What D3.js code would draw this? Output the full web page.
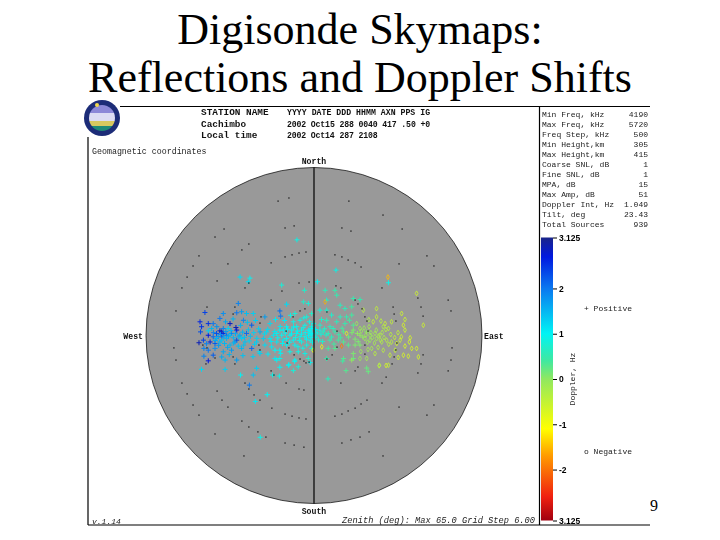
<!DOCTYPE html>
<html>
<head>
<meta charset="utf-8">
<style>
/* all element styling goes here */
html, body { margin: 0; padding: 0; background: #fff; }
#skymap { display: block; }
.title { font-family: "Liberation Serif", serif; font-size: 44px; text-anchor: middle; }
.mono { font-family: "Liberation Mono", monospace; font-size: 8.2px; font-weight: bold; fill: #111; filter: blur(0.25px); }
.small { font-family: "Liberation Mono", monospace; font-size: 8px; fill: #222; filter: blur(0.3px); }
.cbar text { font-family: "Liberation Sans", sans-serif; font-size: 8.5px; font-weight: bold; fill: #000; filter: blur(0.25px); }
</style>
<script src="https://cdn.jsdelivr.net/npm/d3@7"></script>
</head>
<body>
<svg id="skymap" width="720" height="540"></svg>
<script>

var titleLines = ["Digisonde Skymaps:", "Reflections and Doppler Shifts"];

var headerLabels = ["STATION NAME", "Cachimbo", "Local time"];
var headerValues = ["YYYY DATE  DDD HHMM AXN PPS IG", "2002 Oct15 288 0040 417 .50 +0", "2002 Oct14 287 2108"];

var statNames = ["Min Freq, kHz", "Max Freq, kHz", "Freq Step, kHz", "Min Height,km", "Max Height,km", "Coarse SNL, dB",
  "Fine SNL, dB", "MPA, dB", "Max Amp, dB", "Doppler Int, Hz", "Tilt, deg", "Total Sources"];
var statValues = ["4190", "5720", "500", "305", "415", "1", "1", "15", "51", "1.049", "23.43", "939"];

var dopplerTicks = [3.125, 2, 1, 0, -1, -2, -3.125];
var dopplerTickLabels = ["3.125", "2", "1", "0", "-1", "-2", "3.125"];
var dopplerStops = [3.125, 2.7, 2, 1, 0.4, 0, -1.1, -1.7, -2.6, -3.125];
var dopplerColors = ["#1a2488", "#0018e0", "#0a78f0", "#00f4f4", "#40e8a0", "#90e860", "#ffff00", "#ff9a00", "#f02010", "#a00010"];

// small black grid dots, [east, north] in degrees of zenith angle
var gridDots = [
  [-13.9,52],[-9.7,53.2],[-11.2,41.6],[-7.7,42.4],[-34.8,41.2],[-38.3,38.1],[-25.2,35.4],[-27.9,33.1],[-44.5,30.8],[-46.8,26.9],
  [-33.3,27.7],[-16.6,28.1],[-11.2,30.4],[-8.5,31.2],[-5.8,31.9],[-3.1,32.3],[13.5,52],[26.7,46.6],[10.8,41.6],[14.3,40.4],
  [34.1,41.2],[8.1,31.2],[10.8,30.4],[13.2,29.2],[15.9,28.1],[18.2,26.5],[43.7,30.8],[46.4,26.9],[32.9,27.7],[-49.1,22.6],
  [-51.1,18.4],[-37.5,21.1],[-25.2,20.3],[-26.7,18.4],[-5.8,20.3],[-1.9,20.7],[-12.4,17.2],[-16.6,13.7],[-41.4,11],[-31.3,8.3],
  [-30.6,11],[-3.5,10.3],[-5.4,9.5],[-8.1,7.2],[-10.8,1.7],[-20.9,4.8],[-20.5,7.2],[-43,-3.7],[-41.4,-4.8],[-21.3,-3.7],
  [-20.9,-5.6],[-10.4,-2.9],[-9.7,-4.8],[-7.7,-7.5],[-5.4,-9.1],[-1.9,-10.3],[-31.3,-8.3],[-30.6,-11],[-38.3,-8.7],[8.5,19.2],
  [10.4,18.4],[26.3,18.4],[15.9,13.7],[17,12.2],[18.6,10.3],[19.7,7.2],[30.6,11],[41.4,11],[40.2,14.5],[42.2,7.5],
  [31,8.3],[31.7,5.6],[20.5,5.6],[5,9.1],[20.9,1.7],[8.9,1.7],[32.1,-2.9],[19.7,-3.7],[8.9,-4.5],[31.7,-5.6],
  [7,-7.5],[5,-9.1],[19.7,-7.2],[17,-12.2],[30.2,-11],[31,-8.3],[42.2,-7.5],[41.4,-11],[-41.8,-11],[-3.9,-9.9],
  [-3.1,-10.6],[15.9,-13.7],[40.2,-14.5],[-16.6,-13.7],[-15.5,-15.3],[-10.8,-18.4],[-26.7,-18.4],[-25.2,-20.7],[-37.5,-21.5],[-5.8,-20.7],
  [-3.9,-21.1],[10.4,-18.4],[26.3,-18.4],[27.9,-16.1],[-23.2,-23],[-20.9,-25],[-35.6,-25],[-33.3,-27.7],[20.5,-25],[18.2,-26.5],
  [15.9,-28.1],[13.2,-29.2],[10.8,-30.4],[8.1,-31.2],[32.9,-27.7],[43.7,-30.8],[-16.3,-28.1],[-11.2,-30.4],[-8.5,-31.2],[-5.8,-31.9],
  [-3.1,-32.3],[-27.9,-33.1],[-25.2,-35.4],[-21.7,-37.3],[-18.6,-39.3],[-38.3,-38.1],[21.3,-37.3],[17.8,-39.3],[14.3,-40.4],[10.8,-41.6],
  [-11.2,-41.6],[-7.7,-42.4],[-3.9,-43.2],[-27.1,-46.6],[26.7,-46.6],[-53.4,9.5],[-54.2,-4.8],[-53.4,-9.5],[-51.1,-18.4],[-49.1,-22.6],
  [-46.8,-26.9],[-44.5,-30.8],[51.9,13.7],[53,9.5],[53.4,-4.8],[53,-9.5],[51.9,-13.7],[46.4,-26.9]
];

// reflections, [east, north, doppler Hz]
var westSources = [
  [-44.1,5.3,2.6],[-40.9,4.6,2.5],[-42.2,8.9,2.4],[-43.5,3.4,2.5],[-43.9,1.4,2.3],[-44.5,-2.8,2.9],[-42.8,-1.8,2.4],[-40.2,-2.5,2.6],
  [-38.3,-3.1,2.2],[-35.7,1.4,2.9],[-36.4,6.6,2],[-35.1,8.5,1.8],[-39,4.6,2],[-32.5,4.6,2.8],[-29.9,2.1,2.7],[-29.3,12.4,1.9],
  [-28,9.2,1.7],[-29.9,8.8,2],[-26.1,8.5,1.4],[-27.3,5.9,1.9],[-23.5,8.5,1.3],[-19,7.2,1.7],[-13.2,9.5,2.1],[-12.9,7.5,2],
  [-35.7,-0.5,2.4],[-33.8,0.1,2.1],[-31.9,0.8,2],[-29.9,-1.8,2.3],[-26.1,0.8,2.1],[-24.1,4,2.2],[-20.9,1.4,1.6],[-37.7,0.8,2.3],
  [-40.9,0.1,2.7],[-39,-0.5,2.1],[-35.1,2.7,1.9],[-42.6,-5,1.9],[-40.9,-5.7,2],[-38.3,-5,1.8],[-39,-7.6,2.2],[-35.1,-6.3,1.6],
  [-31.9,-5.7,1.7],[-28,-5,1.5],[-24.1,-5,2.1],[-20.9,-7,1.3],[-42.6,-8,1.9],[-40.9,-9.8,2.7],[-35.7,-8.3,1.6],[-34.4,-9.5,1.5],
  [-29.9,-9.5,1.7],[-30.6,-2.5,1.8],[-32.5,-3.7,1.5],[-36.4,-2.5,1.5],[-26.7,-2.5,1.4],[-37.7,-1.2,1.5],[-35.7,-1.8,1.4],[-33.8,-1.2,1.5],
  [-32.5,0.1,1.4],[-28.7,0.1,1.6],[-28,-1.2,1.3],[-35.1,0.8,2.6],[-36.4,1.8,2.8],[-30.2,3.1,2.9],[-40.9,1.8,1.3],[-39.6,2.7,1.5],[-33.2,2.7,1.3],
  [-38.9,1.1,1.9],[-37.1,-0.4,1.7],[-36.2,0.4,1.8],[-34.9,-0.6,1.6],[-34.1,1.5,1.7],[-33.1,-0.2,1.6],[-32.1,1.9,1.5],[-31.2,-0.9,1.5],
  [-30.4,0.7,1.6],[-29.1,-0.5,1.5],[-27.6,1.3,1.5],[-26.9,-0.7,1.4],[-25.4,2.2,1.4],[-24.6,-0.3,1.4],[-23.3,1.1,1.3],[-22.1,-1.1,1.3],
  [-21.4,2.6,1.3],[-38.2,-1.9,1.6],[-36.9,-3.8,1.7],[-34.6,-3.1,1.5],[-33.4,-4.6,1.6],[-31.1,-2.9,1.5],[-29.3,-4.1,1.4],[-27.2,-3.7,1.4],
  [-25.1,-2.1,1.3],[-23,-3.4,1.3],[-41.6,-3.2,1.9],[-37.6,3.4,1.8],[-34.2,5.3,1.6],[-31.3,6.4,1.5],[-28.4,3.9,1.5],[-25.8,5.1,1.4],
  [-22.6,5.8,1.3],[-32.8,-7.4,1.5],[-27.5,-7.8,1.4],[-23.6,-8.2,1.3]
];
var centreSources = [
  [-18.3,1.4,1.2],[-15.7,0.1,1.1],[-13.2,2.1,1],[-10.6,3.4,1],[-8,5.3,0.9],[-5.4,5.9,0.9],[-3.5,4,0.9],[-2.2,2.1,1],
  [-0.9,0.8,1],[-6.7,0.8,1],[-9.3,0.1,1],[-11.9,-1.8,1.1],[-14.4,-2.5,1.1],[-16.4,-4.4,1.1],[-13.2,-5.7,1],[-10.6,-3.7,1],
  [-7.4,-3.7,1],[-4.8,-2.5,0.9],[-1.5,-1.8,0.9],[-13.2,-8.9,0.9],[-15.1,-8.9,1.1],[-9.9,-11.5,1],[-7.4,-9.5,1],[-6.1,-12.1,0.8],
  [-22.2,-2.5,1.3],[-19.6,-1.2,1.3],[-21.2,-6.3,1.2],[-12.5,19.5,0.8],[-3.7,17.5,0.7],[-25.4,20.8,1.2],[-10.6,12.1,1.2],[-7.4,8.5,0.8],
  [-4.1,13,0.7],[-2.2,12.4,0.8],[-17,4.6,1.2],[-2.8,7.2,0.8],[-0.9,8.5,0.7],[-14.4,0.8,1],[-12.5,0.1,1],[-10.6,-1.2,1],
  [-8.6,2.1,1],[-6.7,3.4,0.9],[-4.8,2.1,0.9],[-3.5,-0.5,0.9],[-0.9,3.4,0.9],[-5.4,-0.5,0.9],[-8,-1.8,1],[-2.8,-3.7,0.9],
  [-0.9,-5,0.8],[-11.9,2.1,1],[-17,-1.2,1.1],[-19,-3.7,1.2],[-3.5,-7,0.9],[-2.2,-8.9,0.7],[-15.1,-5.7,1],[-9.3,-6.3,0.9],
  [-6.1,-6.3,0.9],[-14.4,-9.5,1],[-9.7,-11.3,1],[-7.5,-10,1],[-1.5,-10.5,1],[-13.2,-12.3,1],[-28.4,-15.3,1],[-23.5,-15.3,1.4],
  [-22.2,-12.7,1.3],[-16,-15.3,0.9],[-13.4,-15.7,0.9],[-8,-13.6,0.8],[-25,-19.2,2],[-18.1,-22.9,1],[-22.7,-25.5,1.1],[-20.8,-39.4,0.9],
  [-34.4,-13.1,1.3],[-43.5,-13.1,1.2],[8.5,25.3,0.9],[-6.6,37,0.9],[-24.8,22.2,1],[-28.6,22.6,1.2],[28.8,20.4,0.9],[1.3,20.8,1],
  [-19.2,0.6,1.2],[-17.9,2.4,1.2],[-16.6,-2.3,1.1],[-15.2,1.6,1.1],[-14,-0.9,1],[-13.1,3.5,1.1],[-12.2,-3.1,1],[-11.1,0.9,1],
  [-10.2,2.4,1],[-9.4,-2.6,1],[-8.7,0.6,1],[-7.9,3.3,1],[-7.2,-0.8,0.9],[-6.4,1.7,1],[-5.7,-1.9,0.9],[-4.9,0.5,1],
  [-4.2,3,0.9],[-3.4,1.1,1],[-2.9,-1.4,1],[-2.1,0.1,1],[-1.6,1.8,1],[-1.1,-0.7,1],[-0.6,-2.6,0.9],[-0.4,0.6,1],
  [-0.2,4.6,0.9],[-1.8,5.3,0.9],[-3.9,6.8,0.9],[-6.2,-4.4,0.9],[-4.3,-4.9,0.9],[-12.9,-6.9,1],[-17.8,-7.2,1.1],[-11.4,5.8,1.1],
  [-14.9,6.2,1.1],[-9.1,7.8,0.9]
];
var eastSources = [
  [4.3,17.5,0.6],[8.1,17.5,0.5],[39.7,16.3,-0.6],[42.3,4,-0.6],[4.9,13.7,0.7],[8.8,15.6,0.5],[15.2,14.3,0.5],[17.8,13.9,0.5],
  [14.6,11.1,0.4],[12,10.4,0.6],[10.1,11.7,0.6],[4.3,13,-1.6],[4.9,9.8,0.7],[2.3,9.8,0.8],[6.8,7.9,0.7],[10.1,7.2,0.6],
  [12.6,7.2,0.5],[14.6,7.9,0.4],[16.5,4.6,-0.1],[19.1,9.8,-0.4],[24.2,10.4,-0.5],[24.2,7.2,-0.5],[22.9,5.3,-0.5],[27.5,4.6,-0.6],
  [30,5.3,-0.5],[33.9,8.5,-0.6],[35.2,6.2,-0.6],[34.6,4,-0.7],[35.2,2.1,-0.6],[28.8,2.7,-0.4],[26.8,3.4,-0.3],[4.9,5.9,0.6],
  [2.3,4,0.7],[6.2,3.4,0.6],[8.8,5.3,0.6],[12,4.6,0.5],[8.1,1.4,0.5],[11.4,1.4,0.3],[12.6,0.8,-0.8],[15.2,2.1,0.1],
  [17.8,2.7,-0.1],[20.4,1.4,0],[21.7,0.1,-0.1],[23.6,0.8,-0.2],[25.5,0.1,-0.3],[17.8,0.1,0],[19.7,-1.2,-0.1],[21.7,-1.8,-0.1],
  [24.2,-1.2,-0.2],[26.2,-2.5,-0.3],[28.1,-1.8,-0.4],[30,-2.5,-0.4],[32,-3.1,-0.6],[33.3,-1.8,-0.6],[35.2,-4.1,-0.7],[36.9,-2.5,-0.7],
  [37.8,-5,-0.7],[39.7,-5,-0.7],[34.6,-7.6,-0.7],[36.5,-8,-0.7],[40.4,-8.3,-0.7],[32.6,-8.5,-0.6],[29.4,-7.6,-0.5],[26.8,-5.7,-0.4],
  [23.6,-7,-0.4],[20.4,-8.9,-0.2],[17.8,-8.9,-0.1],[15.2,-7,0.1],[13.3,-3.7,0.3],[11.4,-2.5,0.3],[9.4,-1.8,0.4],[6.2,-1.8,0.5],
  [3,-4.4,-0.9],[-0.3,-5.7,-0.9],[5.5,-5,0.4],[8.1,-5,0.3],[10.7,-4.1,-1.9],[15.9,-3.7,0.1],[17.8,-3.7,0.1],[22.3,-5,-0.2],
  [28.8,-11.5,-0.5],[25.3,-11.5,-0.3],[11.4,-8.9,0.3],[15.2,-8.9,0.2],[4.9,-8.9,0.5],[2.3,2.1,0.9],[-0.9,2.7,1],[-1.5,0.8,1],
  [5.5,0.8,0.6],[3.6,1.4,0.7],[15.2,4,0.3],[13.7,5.9,0.4],[5.4,-16.8,0.6],[11.1,-9.9,0.4],[12.4,-13.6,0.3],[14.6,-9.5,0],
  [20.4,-12.6,0.2],[21,-14,0.2],[25.2,-11.7,-0.4],[27.9,-11.6,-0.7],[28.6,22.6,-1.5],
  [0.7,-0.6,0.9],[1.2,1,0.9],[0.6,2.3,1],[1.8,-1.7,0.8],[2.7,0.5,0.8],[3.3,-2.3,0.7],[4.1,2.6,0.7],[4.7,0.2,0.7],
  [6.8,-0.6,0.6],[7.4,2.7,0.6],[9.6,0.3,0.5],[10.3,-0.9,0.4],[7.7,-3.3,0.4],[2.9,6.2,0.7],[10.9,2.8,0.4],
  [13.4,-0.6,0.2],[14.7,1.1,0.1],[15.9,-1.4,0.1],[16.8,0.8,0],[17.1,-2.4,0.1],[18.3,1.7,-0.1],[18.9,-0.6,0],[19.4,2.9,-0.1],
  [20.1,0.2,-0.1],[20.7,-2.6,-0.1],[21.3,3.4,-0.2],[22,1.1,-0.1],[22.6,-0.8,-0.1],[23.4,-2.9,-0.2],[24.1,2.1,-0.2],[24.9,-0.2,-0.2],
  [25.7,-1.8,-0.3],[26.4,1.2,-0.3],[27.1,-0.8,-0.3],[27.8,2.3,-0.4],[28.9,-3.4,-0.4],[29.7,0.4,-0.4],[31.2,-0.8,-0.5],[32.5,1.1,-0.5],
  [21.2,6.1,-0.3],[25.9,5.6,-0.4],[18.1,-6.2,-0.1],[20.9,-5.4,-0.2],[24.8,-4.6,-0.3],[31.4,-5.7,-0.5],[33.8,-0.5,-0.6],[37.2,-0.9,-0.7]
];

var maxZenith = 65;
var mapCx = 314, mapCy = 335.5, mapR = 168;

var svg = d3.select("#skymap");

var defs = svg.append("defs");
defs.append("filter").attr("id", "soft")
  .append("feGaussianBlur").attr("stdDeviation", 0.25);

svg.selectAll(".title").data(titleLines).enter().append("text")
  .attr("class", "title")
  .attr("x", 360)
  .attr("y", function(d, i) { return 44 + i * 48; })
  .text(function(d) { return d; });

// white panel of the plot sits over the title descenders
svg.append("rect").attr("x", 88).attr("y", 104).attr("width", 562).attr("height", 421).attr("fill", "#fff");

// frame of the plot
var frame = [[120, 106.5, 650, 106.5], [88, 137, 88, 525], [88, 525, 650, 525], [539.5, 106.5, 539.5, 525]];
svg.selectAll(".frame").data(frame).enter().append("line")
  .attr("class", "frame")
  .attr("x1", function(d) { return d[0]; })
  .attr("y1", function(d) { return d[1]; })
  .attr("x2", function(d) { return d[2]; })
  .attr("y2", function(d) { return d[3]; })
  .attr("stroke", "#000")
  .attr("stroke-width", 1.2);

// logo
var logo = svg.append("g").attr("transform", "translate(102,118)");
defs.append("clipPath").attr("id", "logoclip").append("circle").attr("r", 13);
logo.append("circle").attr("r", 18).attr("fill", "#1c2c78");
var logoInner = logo.append("g").attr("clip-path", "url(#logoclip)");
logoInner.append("rect").attr("x", -13).attr("y", -13).attr("width", 26).attr("height", 8).attr("fill", "#8c88d8");
logoInner.append("rect").attr("x", -13).attr("y", -5).attr("width", 26).attr("height", 8).attr("fill", "#dcdcf4");
logoInner.append("rect").attr("x", -13).attr("y", 3).attr("width", 26).attr("height", 5).attr("fill", "#d8c860");
logoInner.append("rect").attr("x", -13).attr("y", 8).attr("width", 26).attr("height", 5).attr("fill", "#1f8a78");
logo.append("circle").attr("cx", -5).attr("cy", -13).attr("r", 2).attr("fill", "#f0d850");

// header block
svg.selectAll(".hlab").data(headerLabels).enter().append("text")
  .attr("class", "mono hlab")
  .attr("x", 201)
  .attr("y", function(d, i) { return 115 + i * 11.5; })
  .style("font-size", "9.4px")
  .text(function(d) { return d; });
svg.selectAll(".hval").data(headerValues).enter().append("text")
  .attr("class", "mono hval")
  .attr("x", 287)
  .attr("y", function(d, i) { return 115 + i * 11.5; })
  .style("font-size", "8.2px")
  .attr("textLength", function(d) { return d.length * 4.77; })
  .text(function(d) { return d; });

svg.append("text").attr("class", "small").attr("x", 92).attr("y", 154).style("font-size", "8.3px").text("Geomagnetic coordinates");

// statistics column
svg.selectAll(".sname").data(statNames).enter().append("text")
  .attr("class", "small sname")
  .attr("x", 542)
  .attr("y", function(d, i) { return 117 + i * 10; })
  .text(function(d) { return d; });
svg.selectAll(".sval").data(statValues).enter().append("text")
  .attr("class", "small sval")
  .attr("x", 648)
  .attr("y", function(d, i) { return 117 + i * 10; })
  .attr("text-anchor", "end")
  .text(function(d) { return d; });

// map scales, zenith angle out to the rim of the circle
var x = d3.scaleLinear().domain([-maxZenith, maxZenith]).range([mapCx - mapR, mapCx + mapR]);
var y = d3.scaleLinear().domain([-maxZenith, maxZenith]).range([mapCy + mapR, mapCy - mapR]);

svg.append("circle")
  .attr("cx", x(0))
  .attr("cy", y(0))
  .attr("r", x(maxZenith) - x(0))
  .attr("fill", "#999999")
  .attr("stroke", "#000")
  .attr("stroke-width", 0.7);

var marks = svg.append("g").attr("filter", "url(#soft)");

svg.selectAll(".dot").data(gridDots).enter().append("rect")
  .attr("class", "dot")
  .attr("x", function(d) { return x(d[0]) - 0.6; })
  .attr("y", function(d) { return y(d[1]) - 0.6; })
  .attr("width", 1.2)
  .attr("height", 1.2)
  .attr("fill", "#000");

var color = d3.scaleLinear().domain(dopplerStops).range(dopplerColors);

var plusPath = d3.path();
plusPath.moveTo(-2.5, 0); plusPath.lineTo(2.5, 0);
plusPath.moveTo(0, -2.5); plusPath.lineTo(0, 2.5);
var circlePath = d3.symbol().type(d3.symbolDiamond).size(7)();

var sources = westSources.concat(centreSources, eastSources);
marks.selectAll(".src").data(sources).enter().append("path")
  .attr("class", "src")
  .attr("transform", function(d) { return "translate(" + x(d[0]) + "," + y(d[1]) + ")"; })
  .attr("d", function(d) { return d[2] >= 0 ? plusPath.toString() : circlePath; })
  .attr("fill", "none")
  .attr("stroke", function(d) { return color(d[2]); })
  .attr("stroke-width", function(d) { return d[2] >= 0 ? 1 : 0.8; });

// north-south line over the marks
svg.append("line")
  .attr("x1", x(0)).attr("x2", x(0))
  .attr("y1", y(maxZenith)).attr("y2", y(-maxZenith))
  .attr("stroke", "#000")
  .attr("stroke-width", 1.2);

var compass = [
  {t: "North", x: x(0), y: y(maxZenith) - 4, a: "middle"},
  {t: "South", x: x(0), y: y(-maxZenith) + 10, a: "middle"},
  {t: "West", x: x(-maxZenith) - 3, y: y(0) + 3, a: "end"},
  {t: "East", x: x(maxZenith) + 2, y: y(0) + 3, a: "start"}
];
svg.selectAll(".compass").data(compass).enter().append("text")
  .attr("class", "mono compass")
  .attr("x", function(d) { return d.x; })
  .attr("y", function(d) { return d.y; })
  .attr("text-anchor", function(d) { return d.a; })
  .text(function(d) { return d.t; });

svg.append("text").attr("class", "small").attr("x", 92).attr("y", 524).style("font-style", "italic").text("v.1.14");
svg.append("text").attr("class", "small").attr("x", 535).attr("y", 523)
  .attr("text-anchor", "end").style("font-style", "italic").style("font-size", "8.7px")
  .text("Zenith (deg): Max 65.0  Grid Step 6.00");

// doppler colour bar
var barY = d3.scaleLinear().domain([3.125, -3.125]).range([237.5, 520.5]);
var grad = defs.append("linearGradient").attr("id", "dopplerGrad")
  .attr("x1", 0).attr("x2", 0).attr("y1", 0).attr("y2", 1);
grad.selectAll("stop").data(dopplerStops).enter().append("stop")
  .attr("offset", function(d) { return (barY(d) - barY(3.125)) / (barY(-3.125) - barY(3.125)); })
  .attr("stop-color", function(d) { return color(d); });

svg.append("rect")
  .attr("x", 541)
  .attr("y", barY(3.125))
  .attr("width", 12)
  .attr("height", barY(-3.125) - barY(3.125))
  .attr("fill", "url(#dopplerGrad)");

var barAxis = d3.axisRight(barY)
  .tickValues(dopplerTicks)
  .tickFormat(function(d, i) { return dopplerTickLabels[i]; })
  .tickSize(4)
  .tickPadding(2);
svg.append("g").attr("class", "cbar")
  .attr("transform", "translate(553,0)")
  .call(barAxis)
  .call(function(g) { g.select(".domain").remove(); });

svg.append("text").attr("class", "small")
  .attr("transform", "translate(575,379) rotate(-90)")
  .attr("text-anchor", "middle")
  .text("Doppler, Hz");
svg.append("text").attr("class", "small").attr("x", 584).attr("y", 311).text("+ Positive");
svg.append("text").attr("class", "small").attr("x", 584).attr("y", 454).text("o Negative");

svg.insert("text", "rect")
  .attr("x", 650).attr("y", 511)
  .style("font-family", "Liberation Serif")
  .style("font-size", "16px")
  .text("9");

</script>
</body>
</html>
